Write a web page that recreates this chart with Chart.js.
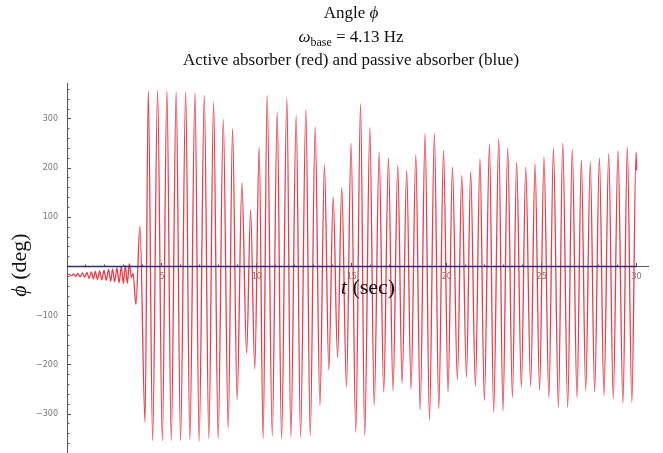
<!DOCTYPE html>
<html><head><meta charset="utf-8">
<script src="https://cdn.jsdelivr.net/npm/chart.js@4.4.1/dist/chart.umd.min.js"></script>
<style>html,body{margin:0;padding:0;background:#fff;overflow:hidden}canvas{display:block}</style>
</head><body>
<canvas id="c" width="663" height="453"></canvas>
<script>
// ---- data ----
// small oscillation before the large swing (extrema, seconds / degrees)
const earlyTimes  = [0.00,0.12,0.23,0.35,0.46,0.58,0.69,0.82,0.93,1.05,1.16,1.28,1.39,1.49,1.60,1.72,1.83,1.95,2.06,2.19,2.30,2.40,2.51,2.63,2.74,2.86,2.97,3.07,3.18,3.28,3.40,3.48];
const earlyAngles = [-17,-16,-19,-15,-20,-14,-21,-13,-22,-12,-24,-11,-25,-10,-26,-9,-27,-8,-28,-6,-30,-5,-31,-3,-33,-1,-34,2,-34,6,-22,-14];
// large oscillation (alternating troughs / peaks)
const mainTimes  = [3.63,3.84,4.11,4.28,4.51,4.77,5.02,5.26,5.49,5.75,5.98,6.25,6.47,6.74,6.96,7.23,7.47,7.72,7.96,8.23,8.49,8.72,8.96,9.21,9.46,9.67,9.89,10.12,10.33,10.54,10.81,11.07,11.30,11.58,11.79,12.07,12.30,12.58,12.81,13.07,13.32,13.56,13.79,14.02,14.25,14.47,14.72,14.96,15.21,15.46,15.68,15.95,16.18,16.44,16.68,16.93,17.17,17.42,17.65,17.89,18.12,18.37,18.60,18.86,19.09,19.35,19.58,19.83,20.07,20.30,20.56,20.79,21.04,21.26,21.51,21.75,21.98,22.25,22.47,22.74,22.96,23.21,23.46,23.68,23.93,24.16,24.42,24.65,24.89,25.12,25.38,25.62,25.88,26.11,26.37,26.61,26.86,27.09,27.32,27.56,27.79,28.04,28.28,28.53,28.77,29.02,29.28,29.51,29.75,29.97,30.00];
const mainAngles = [-77,82,-316,356,-354,358,-355,358,-354,355,-354,355,-353,354,-355,348,-350,334,-350,299,-329,280,-271,170,-176,115,-208,243,-350,348,-344,315,-350,342,-347,307,-347,319,-344,284,-283,207,-210,141,-185,161,-245,251,-337,331,-344,282,-283,232,-255,221,-252,205,-238,195,-249,227,-292,270,-313,270,-289,236,-255,202,-230,185,-225,193,-244,219,-272,249,-296,260,-294,241,-266,212,-245,202,-243,209,-252,223,-267,241,-286,251,-286,238,-266,216,-252,212,-255,221,-262,230,-268,236,-278,243,-276,232,195];
// passive absorber stays at zero
const passiveTimes  = [0, 30];
const passiveAngles = [0, 0];
// axis ticks
const xTickValues = [5,10,15,20,25,30];
const xMinorTicks = [1,2,3,4,5,6,7,8,9,10,11,12,13,14,15,16,17,18,19,20,21,22,23,24,25,26,27,28,29,30];
const yTickValues = [-300,-200,-100,100,200,300];
const yMinorTicks = [-360,-340,-320,-300,-280,-260,-240,-220,-200,-180,-160,-140,-120,-100,-80,-60,-40,-20,20,40,60,80,100,120,140,160,180,200,220,240,260,280,300,320,340,360];

const redPoints = [];
earlyTimes.forEach((t,i)=>redPoints.push({x:t,y:earlyAngles[i]}));
mainTimes.forEach((t,i)=>redPoints.push({x:t,y:mainAngles[i]}));
const bluePoints = passiveTimes.map((t,i)=>({x:t,y:passiveAngles[i]}));

const SERIF = '"Liberation Serif","DejaVu Serif","Times New Roman",serif';
function drawRuns(ctx, runs, cx, y){
  let total = 0;
  runs.forEach(r=>{ctx.font=r.f; r.w=ctx.measureText(r.t).width; total+=r.w;});
  let x = cx - total/2;
  runs.forEach(r=>{ctx.font=r.f; ctx.fillText(r.t, x, y+(r.dy||0)); x+=r.w;});
}
const textPlugin = {
  id:'texts',
  afterDraw(chart){
    const ctx = chart.ctx;
    ctx.save();
    ctx.fillStyle = '#111';
    ctx.textBaseline = 'alphabetic';
    ctx.textAlign = 'left';
    drawRuns(ctx,[{t:'Angle ',f:'17px '+SERIF},{t:'ϕ',f:'italic 17px '+SERIF}],351,18);
    drawRuns(ctx,[{t:'ω',f:'italic 17px '+SERIF},{t:'base',f:'12px '+SERIF,dy:4},{t:' = 4.13 Hz',f:'17px '+SERIF}],351,42);
    drawRuns(ctx,[{t:'Active absorber (red) and passive absorber (blue)',f:'17px '+SERIF}],351,65);
    // x axis title
    drawRuns(ctx,[{t:'t',f:'italic 22px '+SERIF},{t:' (sec)',f:'22px '+SERIF}],368,294);
    // y axis title
    ctx.translate(26, 265);
    ctx.rotate(-Math.PI/2);
    drawRuns(ctx,[{t:'ϕ',f:'italic 22px '+SERIF},{t:' (deg)',f:'22px '+SERIF}],0,0);
    ctx.restore();
  }
};

function fixFit(s, horiz, size){
  if(horiz) s.height = size; else s.width = size;
  s.paddingLeft = 0; s.paddingRight = 0; s.paddingTop = 0; s.paddingBottom = 0;
}
const tickFont = {size:8, family:'"DejaVu Sans","Liberation Sans",sans-serif'};

new Chart(document.getElementById('c'), {
  type:'line',
  data:{datasets:[
    {label:'passive', data:bluePoints, borderColor:'rgb(45,42,130)', borderWidth:1.6, pointRadius:0, tension:0},
    {label:'active', data:redPoints, borderColor:'rgb(230,62,74)', borderWidth:1.3, pointRadius:0, cubicInterpolationMode:'monotone'}
  ]},
  options:{
    responsive:false, animation:false, parsing:true,
    layout:{padding:{left:0,right:15,top:83,bottom:0}},
    plugins:{legend:{display:false}, title:{display:false}, tooltip:{enabled:false}},
    scales:{
      x:{type:'linear', axis:'x', position:{y:0}, min:0, max:30.6,
        afterBuildTicks:s=>{s.ticks = xTickValues.map(v=>({value:v}));},
        afterFit:s=>fixFit(s,true,0),
        grid:{drawOnChartArea:false, drawTicks:true, tickLength:-4, tickColor:'#444', tickWidth:1},
        border:{display:true, color:'#555', width:1},
        ticks:{padding:10, font:tickFont, color:'#777', maxRotation:0, autoSkip:false, callback:v=>String(v)}},
      x2:{type:'linear', axis:'x', position:{y:0}, min:0, max:30.6,
        afterBuildTicks:s=>{s.ticks = xMinorTicks.map(v=>({value:v}));},
        afterFit:s=>fixFit(s,true,0),
        grid:{drawOnChartArea:false, drawTicks:true, tickLength:-2.5, tickColor:'#555', tickWidth:1},
        border:{display:false}, ticks:{display:false}},
      y:{type:'linear', axis:'y', position:'left', min:-379, max:373,
        afterBuildTicks:s=>{s.ticks = yTickValues.map(v=>({value:v}));},
        afterFit:s=>fixFit(s,false,67),
        grid:{drawOnChartArea:false, drawTicks:true, tickLength:-4, tickColor:'#444', tickWidth:1},
        border:{display:true, color:'#555', width:1},
        ticks:{padding:13, font:tickFont, color:'#777', autoSkip:false, callback:v=>String(v).replace('-','\u2212')}},
      y2:{type:'linear', axis:'y', position:{x:0}, min:-379, max:373,
        afterBuildTicks:s=>{s.ticks = yMinorTicks.map(v=>({value:v}));},
        afterFit:s=>fixFit(s,false,0),
        grid:{drawOnChartArea:false, drawTicks:true, tickLength:-2.5, tickColor:'#555', tickWidth:1},
        border:{display:false}, ticks:{display:false}}
    }
  },
  plugins:[textPlugin]
});
</script>
</body></html>
